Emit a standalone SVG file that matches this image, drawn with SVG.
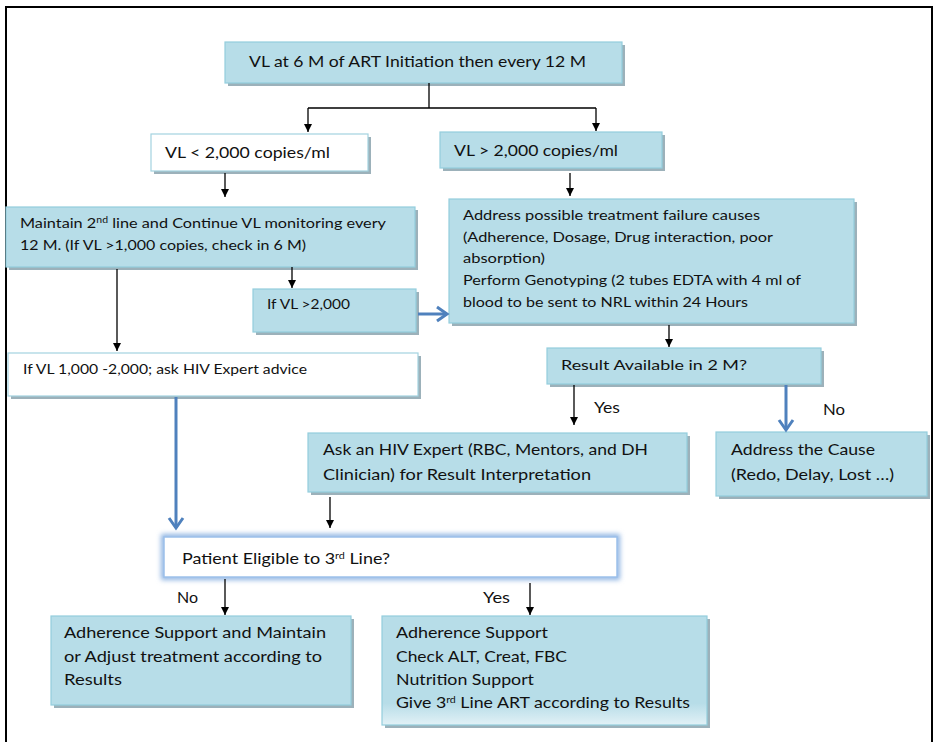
<svg xmlns="http://www.w3.org/2000/svg" width="933" height="742" viewBox="0 0 933 742">
  <defs>
    <style>
      .box { fill: #b7dde8; stroke: #93cddd; stroke-width: 1.2; }
      .wbox { fill: #ffffff; stroke: #a3d3e0; stroke-width: 1.2; }
      .shadow { fill: #9cb1ba; }
      .t { font-family: "Lato", "Open Sans", "Liberation Sans", sans-serif; fill: #111111; }
      .c { font-size: 15px; }
      .n { font-size: 14px; }
      .sup { font-size: 9px; }
      .line { stroke: #000000; stroke-width: 1.3; fill: none; }
      .blue { stroke: #4f81bd; stroke-width: 3; fill: none; }
    </style>
    <marker id="arr" markerUnits="userSpaceOnUse" markerWidth="10" markerHeight="10" refX="8" refY="4" orient="auto">
      <path d="M0,0 L8,4 L0,8 Z" fill="#000000"/>
    </marker>
    <marker id="barr" markerUnits="userSpaceOnUse" markerWidth="16" markerHeight="18" refX="13" refY="9" orient="auto">
      <path d="M3,2 L13,9 L3,16" fill="none" stroke="#4f81bd" stroke-width="3"/>
    </marker>
    <linearGradient id="fade" x1="0" y1="0" x2="0" y2="1">
      <stop offset="0" stop-color="#b7dde8"/>
      <stop offset="0.8" stop-color="#b7dde8"/>
      <stop offset="1" stop-color="#e2f1f6"/>
    </linearGradient>
    <filter id="glow" x="-10%" y="-30%" width="120%" height="160%">
      <feGaussianBlur stdDeviation="2.5"/>
    </filter>
  </defs>

  <!-- frame: open at the bottom -->
  <path d="M6,742 V7 H932 V742" fill="none" stroke="#000000" stroke-width="2"/>

  <g id="n-start">
    <rect class="shadow" x="228" y="45" width="397" height="41"/>
    <rect class="box" x="225" y="42" width="397" height="41"/>
    <text class="t c" x="249" y="67" textLength="337" lengthAdjust="spacingAndGlyphs">VL at 6 M of ART Initiation then every 12 M</text>
  </g>

  <g id="n-low">
    <rect class="shadow" x="154" y="137" width="217" height="37"/>
    <rect class="wbox" x="151" y="134" width="217" height="37"/>
    <text class="t c" x="165" y="158" textLength="165" lengthAdjust="spacingAndGlyphs">VL &lt; 2,000 copies/ml</text>
  </g>

  <g id="n-high">
    <rect class="shadow" x="443" y="135" width="222" height="36"/>
    <rect class="box" x="440" y="132" width="222" height="36"/>
    <text class="t c" x="454" y="156" textLength="164" lengthAdjust="spacingAndGlyphs">VL &gt; 2,000 copies/ml</text>
  </g>

  <g id="n-maintain">
    <rect class="shadow" x="9" y="210" width="409" height="60"/>
    <rect class="box" x="6" y="207" width="409" height="60"/>
    <text class="t n" x="20" y="228" textLength="366" lengthAdjust="spacingAndGlyphs">Maintain 2<tspan class="sup" dy="-5">nd</tspan><tspan dy="5"> line and Continue VL monitoring every</tspan></text>
    <text class="t n" x="20" y="250" textLength="286" lengthAdjust="spacingAndGlyphs">12 M. (If VL &gt;1,000 copies, check in 6 M)</text>
  </g>

  <g id="n-address">
    <rect class="shadow" x="452" y="202" width="405" height="124"/>
    <rect class="box" x="449" y="199" width="405" height="124"/>
    <text class="t n" x="463" y="220" textLength="297" lengthAdjust="spacingAndGlyphs">Address possible treatment failure causes</text>
    <text class="t n" x="463" y="242" textLength="310" lengthAdjust="spacingAndGlyphs">(Adherence, Dosage, Drug interaction, poor</text>
    <text class="t n" x="463" y="263" textLength="82" lengthAdjust="spacingAndGlyphs">absorption)</text>
    <text class="t n" x="463" y="285" textLength="338" lengthAdjust="spacingAndGlyphs">Perform Genotyping (2 tubes EDTA with 4 ml of</text>
    <text class="t n" x="463" y="307" textLength="285" lengthAdjust="spacingAndGlyphs">blood to be sent to NRL within 24 Hours</text>
  </g>

  <g id="n-ifhigh">
    <rect class="shadow" x="256" y="292" width="163" height="43"/>
    <rect class="box" x="253" y="289" width="163" height="43"/>
    <text class="t n" x="267" y="309" textLength="83" lengthAdjust="spacingAndGlyphs">If VL &gt;2,000</text>
  </g>

  <g id="n-ifmid">
    <rect class="shadow" x="11" y="356" width="410" height="43"/>
    <rect class="wbox" x="8" y="353" width="410" height="43"/>
    <text class="t n" x="23" y="374" textLength="284" lengthAdjust="spacingAndGlyphs">If VL 1,000 -2,000; ask HIV Expert advice</text>
  </g>

  <g id="n-result">
    <rect class="shadow" x="550" y="351" width="274" height="36"/>
    <rect class="box" x="547" y="348" width="274" height="36"/>
    <text class="t n" x="561" y="370" textLength="186" lengthAdjust="spacingAndGlyphs">Result Available in 2 M?</text>
  </g>

  <g id="n-expert">
    <rect class="shadow" x="311" y="436" width="379" height="59"/>
    <rect class="box" x="308" y="433" width="379" height="59"/>
    <text class="t c" x="323" y="455" textLength="325" lengthAdjust="spacingAndGlyphs">Ask an HIV Expert (RBC, Mentors, and DH</text>
    <text class="t c" x="323" y="480" textLength="268" lengthAdjust="spacingAndGlyphs">Clinician) for Result Interpretation</text>
  </g>

  <g id="n-cause">
    <rect class="shadow" x="719" y="435" width="211" height="64"/>
    <rect class="box" x="716" y="432" width="211" height="64"/>
    <text class="t c" x="731" y="455" textLength="144" lengthAdjust="spacingAndGlyphs">Address the Cause</text>
    <text class="t c" x="731" y="480" textLength="163" lengthAdjust="spacingAndGlyphs">(Redo, Delay, Lost …)</text>
  </g>

  <g id="n-eligible">
    <rect x="164" y="537" width="453" height="40" fill="none" stroke="#8db3e2" stroke-width="6" filter="url(#glow)"/>
    <rect x="164" y="537" width="453" height="40" fill="#ffffff" stroke="#9cc0ea" stroke-width="1.5"/>
    <text class="t c" x="182" y="564" textLength="208" lengthAdjust="spacingAndGlyphs">Patient Eligible to 3<tspan class="sup" dy="-5">rd</tspan><tspan dy="5"> Line?</tspan></text>
  </g>

  <g id="n-no">
    <rect class="shadow" x="54" y="619" width="300" height="89"/>
    <rect class="box" x="51" y="616" width="300" height="89"/>
    <text class="t c" x="64" y="638" textLength="262" lengthAdjust="spacingAndGlyphs">Adherence Support and Maintain</text>
    <text class="t c" x="64" y="662" textLength="258" lengthAdjust="spacingAndGlyphs">or Adjust treatment according to</text>
    <text class="t c" x="64" y="685" textLength="58" lengthAdjust="spacingAndGlyphs">Results</text>
  </g>

  <g id="n-yes">
    <rect class="shadow" x="385" y="619" width="325" height="109"/>
    <rect x="382" y="616" width="325" height="109" fill="url(#fade)" stroke="#93cddd" stroke-width="1.2"/>
    <text class="t c" x="396" y="638" textLength="152" lengthAdjust="spacingAndGlyphs">Adherence Support</text>
    <text class="t c" x="396" y="662" textLength="171" lengthAdjust="spacingAndGlyphs">Check ALT, Creat, FBC</text>
    <text class="t c" x="396" y="685" textLength="138" lengthAdjust="spacingAndGlyphs">Nutrition Support</text>
    <text class="t c" x="396" y="708" textLength="294" lengthAdjust="spacingAndGlyphs">Give 3<tspan class="sup" dy="-5">rd</tspan><tspan dy="5"> Line ART according to Results</tspan></text>
  </g>

  <g id="connectors">
    <path class="line" d="M429,83 V108 M308,108 H596"/>
    <path class="line" d="M308,108 V132" marker-end="url(#arr)"/>
    <path class="line" d="M596,108 V131" marker-end="url(#arr)"/>
    <path class="line" d="M225,173 V197" marker-end="url(#arr)"/>
    <path class="line" d="M570,173 V196" marker-end="url(#arr)"/>
    <path class="line" d="M292,267 V288" marker-end="url(#arr)"/>
    <path class="line" d="M117,269 V351" marker-end="url(#arr)"/>
    <path class="blue" d="M418,314 H447" marker-end="url(#barr)"/>
    <path class="line" d="M669,325 V347" marker-end="url(#arr)"/>
    <path class="line" d="M574,385 V425" marker-end="url(#arr)"/>
    <path class="blue" d="M786,385 V430" marker-end="url(#barr)"/>
    <path class="blue" d="M176,397 V528" marker-end="url(#barr)"/>
    <path class="line" d="M330,497 V528" marker-end="url(#arr)"/>
    <path class="line" d="M225,579 V615" marker-end="url(#arr)"/>
    <path class="line" d="M530,583 V615" marker-end="url(#arr)"/>
    <text class="t c" x="594" y="413" textLength="26" lengthAdjust="spacingAndGlyphs">Yes</text>
    <text class="t c" x="823" y="415" textLength="22" lengthAdjust="spacingAndGlyphs">No</text>
    <text class="t c" x="177" y="603" textLength="21" lengthAdjust="spacingAndGlyphs">No</text>
    <text class="t c" x="483" y="603" textLength="27" lengthAdjust="spacingAndGlyphs">Yes</text>
  </g>
</svg>
